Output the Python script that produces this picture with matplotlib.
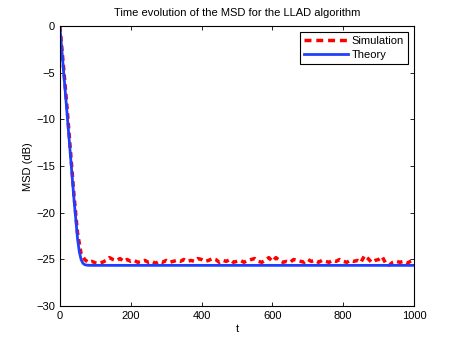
import numpy as np
import matplotlib
matplotlib.use('Agg')
import matplotlib.pyplot as plt

plt.rcParams['font.family'] = ['Liberation Sans', 'DejaVu Sans']

# theory curve
t_theory = [0, 10, 20, 30, 40, 50, 55, 60, 65, 70, 75, 80, 90, 100, 200, 400, 600, 800, 1000]
msd_theory = [0, -4.6, -9.2, -13.9, -18.6, -22.8, -24.2, -25.0, -25.4, -25.55, -25.6, -25.62, -25.63,
              -25.63, -25.63, -25.63, -25.63, -25.63, -25.63]

# simulation, one point every 10 iterations
t_sim = list(range(0, 1001, 10))
msd_sim = [0, -4.2, -8.6, -13.4, -18.2, -22.2, -24.4, -25.0, -25.3, -25.2,
           -25.35, -25.4, -25.3, -25.1, -24.8, -25.0, -25.1, -24.9, -25.2, -25.0,
           -25.2, -25.1, -25.3, -25.2, -25.1, -25.3, -25.2, -25.4, -25.2, -25.3,
           -25.1, -25.3, -25.2, -25.1, -25.2, -25.0, -25.2, -25.1, -25.2, -24.9,
           -25.0, -25.2, -25.1, -24.9, -25.0, -25.3, -25.1, -25.2, -25.0, -25.3,
           -25.2, -25.1, -25.3, -25.1, -25.0, -24.9, -25.2, -25.3, -25.1, -24.8,
           -25.2, -24.8, -25.1, -25.3, -25.2, -25.3, -25.0, -25.1, -25.2, -25.3,
           -25.0, -25.2, -25.1, -25.3, -25.1, -25.2, -25.3, -25.1, -25.2, -25.0,
           -25.2, -25.3, -25.1, -25.2, -25.1, -25.3, -24.6, -24.9, -25.3, -25.1,
           -25.0, -24.7, -25.4, -25.6, -25.3, -25.2, -25.3, -25.2, -25.4, -25.2,
           -25.1]

fig = plt.figure(figsize=(4.57, 3.44), dpi=100)
ax = fig.add_axes([0.131, 0.110, 0.775, 0.814])

ax.plot(t_sim, msd_sim, '--', color='red', lw=2.5, dashes=(1.6, 1.2), label='Simulation')
ax.plot(t_theory, msd_theory, '-', color='#1f3fff', lw=2.0, label='Theory')

ax.set_xlim(0, 1000)
ax.set_ylim(-30, 0)
ax.set_xticks([0, 200, 400, 600, 800, 1000])
ax.set_yticks([-30, -25, -20, -15, -10, -5, 0])
ax.set_yticklabels(['\u221230', '\u221225', '\u221220', '\u221215', '\u221210', '\u22125', '0'])
ax.tick_params(direction='in', top=True, right=True, labelsize=8, length=3, width=0.6)
for s in ax.spines.values():
    s.set_linewidth(0.8)

ax.set_xlabel('t', fontsize=8, labelpad=2)
ax.set_ylabel('MSD (dB)', fontsize=8, labelpad=2)
ax.set_title('Time evolution of the MSD for the LLAD algorithm', fontsize=8, pad=7)

leg = ax.legend(loc='upper right', fontsize=8, fancybox=False, framealpha=1,
                edgecolor='black', handlelength=4.0, borderpad=0.4, labelspacing=0.35,
                handletextpad=0.3, borderaxespad=0.5)
leg.get_frame().set_linewidth(0.8)
# longer dashes in the legend sample, like the reference
leg.get_lines()[0].set_dashes((2.0, 1.4))

fig.savefig('out.png', dpi=100)
